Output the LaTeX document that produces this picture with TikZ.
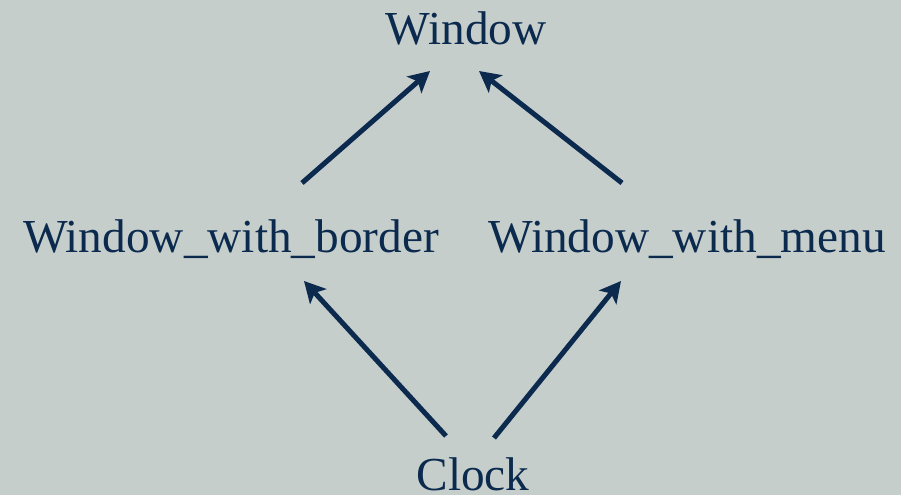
\documentclass[tikz,border=0pt]{standalone}
\usepackage{fontspec}
\setmainfont{Liberation Serif}
\usetikzlibrary{arrows.meta}
\definecolor{bgc}{HTML}{C5CECB}
\definecolor{ink}{HTML}{0B2A4E}
\begin{document}
\begin{tikzpicture}[x=1pt,y=1pt,
  lbl/.style={inner sep=0pt,anchor=base,text=ink,font=\fontsize{47.3}{56}\selectfont},
  arr/.style={draw=ink,line width=5pt,-{Stealth[length=21pt,width=22pt,inset=5pt]}}]
\fill[bgc] (0,0) rectangle (901,495);
\useasboundingbox (0,0) rectangle (901,495);
\node[lbl] (w) at (466,450) {Window};
\node[lbl] (wb) at (231,242) {Window\_with\_border};
\node[lbl] (wm) at (687,242) {Window\_with\_menu};
\node[lbl] (c) at (473,5) {Clock};
\draw[arr] ([shift={(71,70)}]wb.base) -- ([shift={(-36,-26)}]w.base);
\draw[arr] ([shift={(-65,70)}]wm.base) -- ([shift={(13,-26)}]w.base);
\draw[arr] ([shift={(-27,54)}]c.base) -- ([shift={(73,-28)}]wb.base);
\draw[arr] ([shift={(21,52)}]c.base) -- ([shift={(-66,-28)}]wm.base);
\end{tikzpicture}
\end{document}
